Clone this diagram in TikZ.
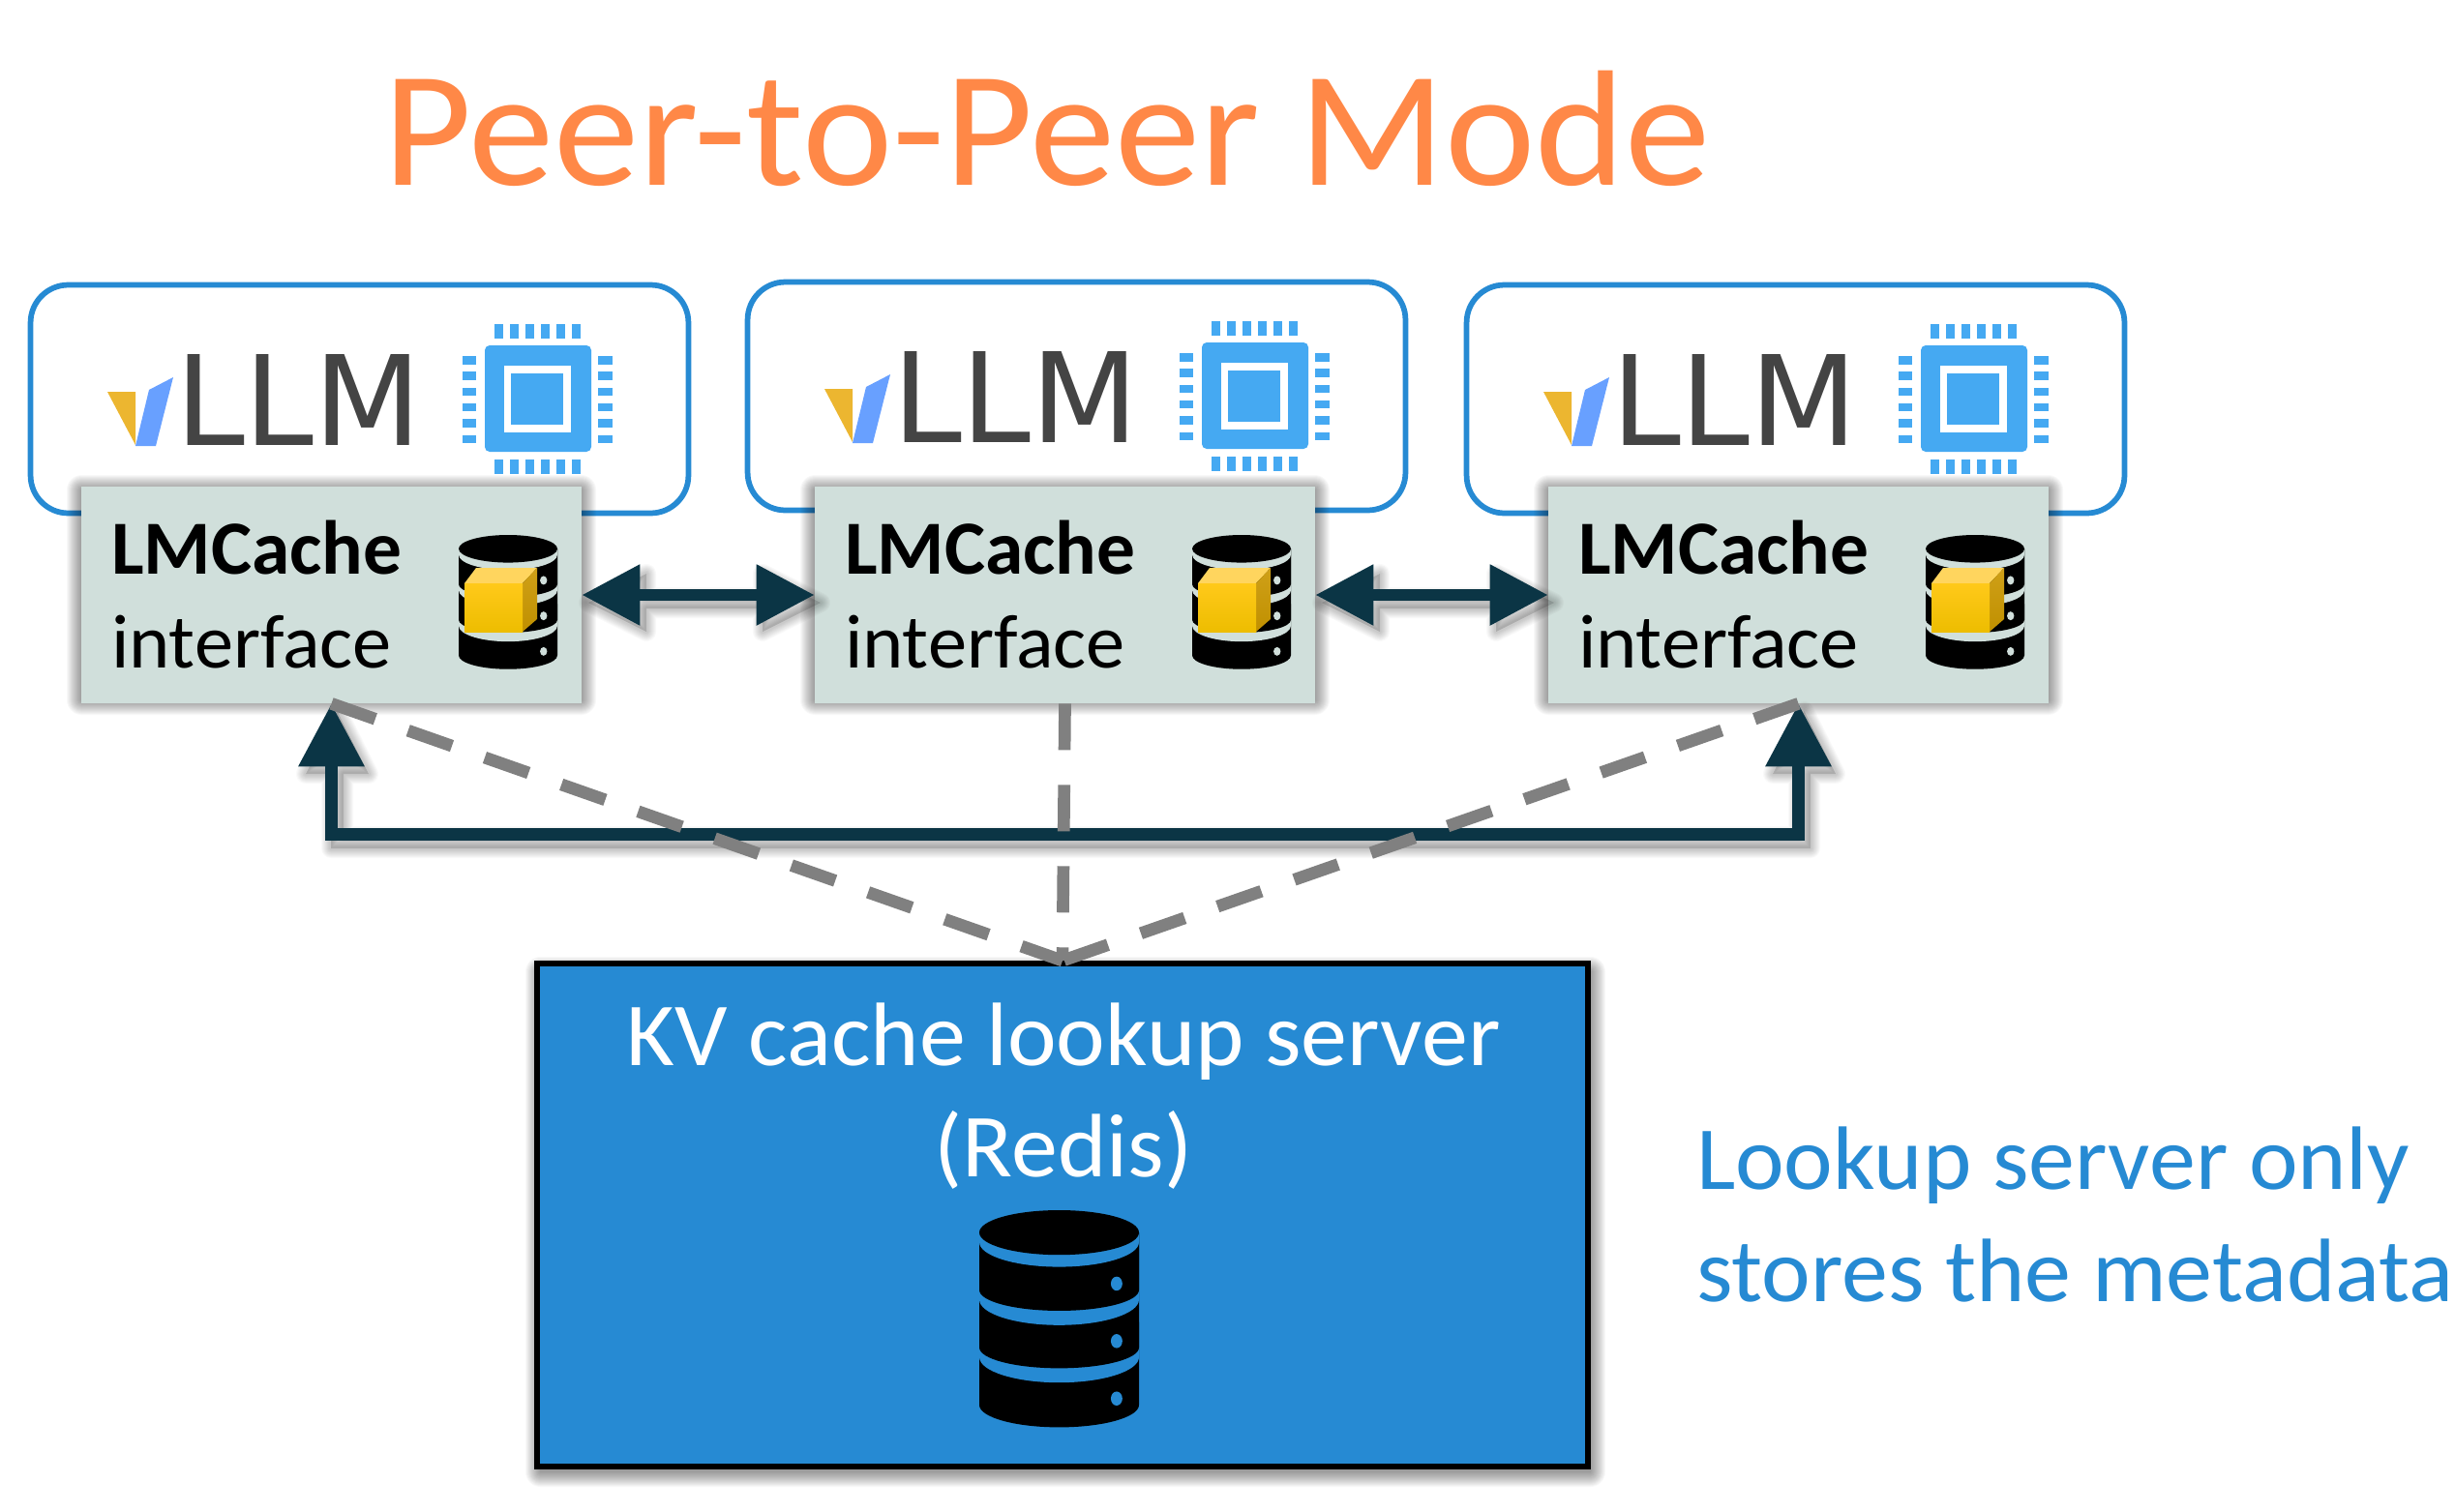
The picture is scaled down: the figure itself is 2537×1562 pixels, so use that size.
\documentclass[tikz,border=0pt]{standalone}
\usepackage{graphicx}
\usepackage{fontspec}
\usetikzlibrary{arrows.meta,calc}
\setmainfont{Carlito}
\newfontfamily\llmfont{DejaVu Sans}
\definecolor{titleorange}{HTML}{FF8847}
\definecolor{boxblue}{HTML}{268AD3}
\definecolor{chipblue}{HTML}{45A9F2}
\definecolor{lmfill}{HTML}{D0DFDB}
\definecolor{darkteal}{HTML}{0B3545}
\definecolor{dashgray}{HTML}{808080}
\definecolor{llmgray}{HTML}{444444}
\tikzset{
  vllmbox/.style={draw=boxblue,line width=0.115cm,rounded corners=0.78cm,fill=white,minimum width=13.6cm,minimum height=4.72cm,inner sep=0pt},
  lmbox/.style={fill=lmfill,minimum width=10.34cm,minimum height=4.48cm,inner sep=0pt},
  redisbox/.style={draw=black,line width=0.12cm,fill=boxblue,minimum width=21.72cm,minimum height=10.4cm,inner sep=0pt},
  txt/.style={inner sep=0pt,outer sep=0pt,anchor=base west},
  ctxt/.style={inner sep=0pt,outer sep=0pt,anchor=base},
  twohead/.style={line width=0.24cm,darkteal,{Triangle[length=1.2cm,width=1.2cm]}-{Triangle[length=1.2cm,width=1.2cm]}},
  buslink/.style={line width=0.26cm,darkteal,miter limit=10,{Triangle[length=1.3cm,width=1.3cm]}-{Triangle[length=1.3cm,width=1.3cm]}},
  dashlink/.style={line width=0.254cm,dashgray,dash pattern=on 0.96cm off 0.72cm},
  softlayer/.style={black,opacity=.028}
}
% soft rectangular shadow: x0,y0,x1,y1
\newcommand{\softrect}[4]{%
  \foreach \g in {0,1,...,15}{\fill[softlayer,rounded corners={(\g+0.5)*0.02cm}] ({#1-\g},{#2-\g}) rectangle ({#3+\g},{#4+\g});}%
}
% soft shadow of a polygon
\newcommand{\softpoly}[1]{%
  \begin{scope}[shift={(6,8)}]
    \fill[black,opacity=.14] #1;
    \foreach \g in {2,3,...,10}{\draw[black,opacity=.022,line join=round,line width={\g*0.04cm}] #1;}
  \end{scope}%
}
\newcommand{\dbseg}[4]{% top, centre, ry, colour
  \fill[#4] (0,#1) -- (0,#2) .. controls (0,{#2+.5523*#3}) and (22.4,{#2+#3}) .. (50,{#2+#3})
     .. controls (77.6,{#2+#3}) and (100,{#2+.5523*#3}) .. (100,#2) -- (100,#1) -- cycle;%
}
\newcommand{\dbicon}[4]{% x,y,scale,bg
  \begin{scope}[shift={(#1,#2)},scale=#3]
    \dbseg{70}{122}{14}{black}
    \dbseg{14}{92}{16}{#4}
    \dbseg{14}{86}{13}{black}
    \dbseg{14}{56}{16}{#4}
    \dbseg{14}{50}{13}{black}
    \dbseg{14}{20}{15.5}{#4}
    \fill[black] (50,14) ellipse [x radius=50,y radius=14];
    \foreach \dy in {46,82,118}{\fill[#4] (86,\dy) ellipse [x radius=3.6,y radius=4.4];}
  \end{scope}%
}
\newcommand{\cube}{%
  \fill[color={rgb,255:red,255;green,213;blue,94}] (480,603) -- (492,587) -- (555,587) -- (540,603) -- cycle;
  \shade[top color={rgb,255:red,207;green,160;blue,24},bottom color={rgb,255:red,192;green,144;blue,0}] (540,603) -- (555,587) -- (555,640) -- (540,653) -- cycle;
  \shade[top color={rgb,255:red,255;green,201;blue,26},bottom color={rgb,255:red,237;green,189;blue,0}] (480,603) rectangle (540,653);%
}
\newcommand{\chip}{%
  \fill[chipblue,rounded corners=0.1cm] (501,357) rectangle (611,467);
  \fill[white] (521,378) rectangle (590,447);
  \fill[chipblue] (528,386) rectangle (582,439);
  \foreach \i in {0,...,5}{
    \fill[chipblue] ({511+16*\i},335) rectangle ++(9,15);
    \fill[chipblue] ({511+16*\i},475) rectangle ++(9,15);
    \fill[chipblue] (478,{368+16.3*\i}) rectangle ++(14,8.5);
    \fill[chipblue] (618,{368+16.3*\i}) rectangle ++(15,8.5);
  }%
}
\newcommand{\worker}[4]{% index, dx and dy of the vLLM box, dx of the LMCache box
  \node[vllmbox] (V#1) at ({371.5+#2},{412.5+#3}) {};
  \begin{scope}[shift={(#2,#3)}]
    \fill[color={rgb,255:red,236;green,182;blue,48}] (111,405) -- (140,405) -- (140,460) -- cycle;
    \fill[color={rgb,255:red,104;green,160;blue,255}] (154,403) -- (179,390) -- (161,461) -- (140,461) -- cycle;
    \node[txt,text=llmgray] (T#1) at (181,460) {\fontsize{73.4}{73.4}\selectfont\llmfont LLM};
    \chip
  \end{scope}
  \begin{scope}[shift={(#4,0)}]
    \softrect{84}{506}{601}{724}
    \node[lmbox] (LM#1) at (342.5,615) {};
    \node[txt] (LMA#1) at (115,593) {\scalebox{1.005}[1]{\fontsize{45}{45}\selectfont\bfseries LMCache}};
    \node[txt] (LMB#1) at (115,690) {\scalebox{1.018}[1]{\fontsize{45}{45}\selectfont interface}};
    \dbicon{474}{553}{1.02}{lmfill}
    \cube
  \end{scope}%
}
\begin{document}
\begin{tikzpicture}[x=0.02cm,y=-0.02cm]
\useasboundingbox (0,0) rectangle (2537,1562);
\fill[white] (0,0) rectangle (2537,1562);
\node[ctxt,text=titleorange] (title) at (1082,191) {\scalebox{1.038}[1]{\fontsize{97}{97}\selectfont Peer-to-Peer Mode}};
\worker{1}{0}{0}{0}
\worker{2}{741}{-3}{758}
\worker{3}{1484}{0}{1516}
% Redis box
\softrect{558}{1004}{1644}{1522}
\node[redisbox] (redis) at (1098,1256) {};
\node[ctxt,text=white] (kv) at (1099,1101) {\scalebox{1.03}[1]{\fontsize{53}{53}\selectfont KV cache lookup server}};
\node[ctxt,text=white] (rd) at (1099,1216) {\scalebox{1.03}[1]{\fontsize{53}{53}\selectfont (Redis)}};
\dbicon{1012}{1251}{1.65}{boxblue}
% side note
\node[txt,text=boxblue] (n1) at (1753,1229) {\scalebox{1.03}[1]{\fontsize{53}{53}\selectfont Lookup server only}};
\node[txt,text=boxblue] (n2) at (1753,1345) {\scalebox{1.03}[1]{\fontsize{53}{53}\selectfont stores the metadata}};
% connector shadows
\softpoly{(602,615) -- (662,585) -- (662,609) -- (782,609) -- (782,585) -- (842,615) -- (782,645) -- (782,621) -- (662,621) -- (662,645) -- cycle}
\softpoly{(1360,615) -- (1420,585) -- (1420,609) -- (1540,609) -- (1540,585) -- (1600,615) -- (1540,645) -- (1540,621) -- (1420,621) -- (1420,645) -- cycle}
\softpoly{(342.5,727) -- (375,792) -- (349,792) -- (349,856) -- (1852,856) -- (1852,792) -- (1826,792) -- (1858.5,727) -- (1891,792) -- (1865,792) -- (1865,869) -- (336,869) -- (336,792) -- (310,792) -- cycle}
% connectors
\coordinate (bus) at (1100,862.5);
\draw[twohead] (LM1.east) -- (LM2.west);
\draw[twohead] (LM2.east) -- (LM3.west);
\draw[buslink] (LM1.south) |- (bus) -| (LM3.south);
\draw[dashlink] (LM1.south) -- (redis.north);
\draw[dashlink] (LM2.south) -- (redis.north);
\draw[dashlink] (LM3.south) -- (redis.north);
\end{tikzpicture}
\end{document}
